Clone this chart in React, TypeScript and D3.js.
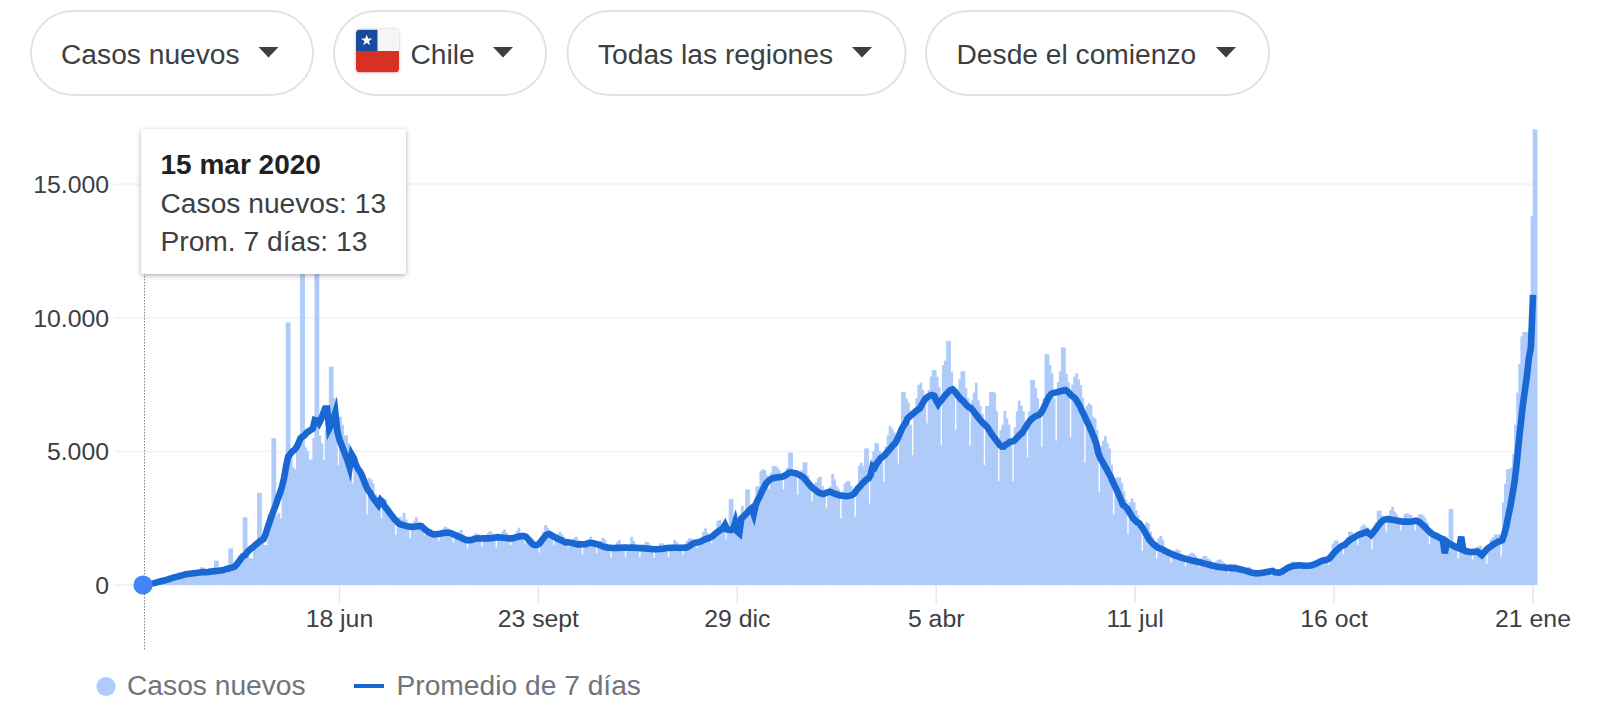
import React from "react";
import * as d3 from "d3";

const FONT = "'Liberation Sans', Arial, sans-serif";

// Daily new cases, one row per week, starting 15 mar 2020
const newCases = [
  13,20,26,60,75,90,115,
  130,140,150,150,170,190,220,
  260,290,280,300,320,350,400,
  400,410,390,370,420,430,660,
  660,470,440,430,480,510,910,
  910,500,480,440,510,560,1370,
  1370,750,700,620,800,950,2530,
  2530,1100,1000,1000,1350,1500,3450,
  3450,1600,1500,1500,2650,2650,5490,
  5490,2600,2700,2490,3500,4050,9826,
  9826,4800,4400,4330,5000,5500,13500,
  13500,5150,5000,4680,4700,5500,12500,
  12500,5600,5300,4680,5800,6500,8170,
  8170,7000,6300,4490,6300,6000,5600,
  5600,5300,5000,3800,4700,4600,4300,
  4200,4000,3900,2640,4000,3950,3800,
  3400,3300,3200,2490,3250,3200,3000,
  2900,2700,2600,1870,2500,2550,2450,
  2700,2450,2300,1745,2300,2400,2550,
  2300,2250,2200,1870,2150,2100,2100,
  2000,1950,1900,1650,1900,2050,2180,
  2150,2100,1950,1583,1950,1950,2000,
  2060,1900,1800,1370,1700,1800,1850,
  1930,1900,1800,1434,1800,1800,1950,
  2020,1950,1850,1400,1800,1850,2000,
  2082,1950,1850,1496,1800,1850,2000,
  2145,1950,1850,1558,1700,1750,1800,
  1700,1600,1400,1210,1600,2000,2245,
  2150,2050,1900,1500,1850,1900,1995,
  1900,1800,1700,1400,1550,1650,1750,
  1808,1700,1550,1147,1450,1550,1700,
  1808,1700,1550,1185,1500,1650,1770,
  1700,1550,1400,1022,1350,1450,1600,
  1683,1500,1400,1060,1350,1500,1808,
  1650,1500,1400,1035,1350,1450,1620,
  1600,1500,1350,1022,1350,1450,1558,
  1558,1500,1400,1035,1400,1500,1683,
  1600,1500,1400,1122,1450,1650,1746,
  1746,1700,1600,1370,1650,1750,2000,
  2120,1950,1800,1560,1900,2050,2394,
  2430,2300,2150,1708,2200,3217,3217,
  2556,2400,2300,1808,2955,2700,3580,
  3580,3000,2900,2430,3680,3700,4265,
  4327,4300,4100,3600,4200,4450,4450,
  4400,4300,4100,3580,4100,4400,4950,
  4950,4300,4100,3367,4200,4300,4590,
  4590,4100,3900,3142,3800,3850,4000,
  4050,3700,3500,2868,3500,3700,4150,
  3950,3700,3600,2494,3500,3800,3880,
  3890,3700,3500,2556,3700,4460,4576,
  4450,5110,5110,3055,4700,5000,5320,
  5300,5000,4800,3865,5200,5600,5950,
  5850,5700,5400,4550,5900,7230,7230,
  6980,6820,6000,4860,6300,7000,7480,
  7570,7300,7000,6050,7300,7800,8040,
  8040,7800,7400,5240,8230,8400,9128,
  9128,7980,7400,5800,7300,7700,8000,
  8000,7360,7000,5200,6900,7200,7570,
  6920,6700,6400,4490,6700,6700,7230,
  7230,7200,6500,3890,5800,6000,6520,
  6235,6000,5500,3890,5900,6500,6900,
  6700,6500,6000,4776,6500,7670,7670,
  7360,7000,6500,5175,7000,8640,8640,
  8230,7920,7000,5400,7600,8000,8890,
  8890,7900,7600,5520,7500,7800,7920,
  7700,7480,7000,4576,6700,6800,6730,
  6300,6235,5800,3466,5200,5400,5570,
  5300,5110,4500,2644,4000,4020,4030,
  3830,3500,3200,1895,3100,3240,3100,
  2800,2600,2400,1284,2200,2345,2300,
  2000,1800,1500,998,1750,1833,1700,
  1400,1300,1200,835,1200,1300,1334,
  1300,1150,1050,710,1100,1150,1210,
  1180,1100,950,660,1000,1085,1085,
  1000,950,850,560,880,950,950,
  880,820,750,436,800,785,800,
  750,680,620,420,620,650,680,
  620,560,520,340,500,540,560,
  560,520,500,360,520,560,600,
  540,540,560,430,620,760,873,
  873,840,800,620,780,810,810,
  800,780,760,640,800,880,950,
  1000,980,950,760,1200,1550,1658,
  1658,1500,1400,1150,1600,1800,1995,
  1995,1900,1800,1500,2000,2200,2270,
  2180,2150,2000,1347,2000,2350,2780,
  2780,2600,2500,2000,2600,2800,2930,
  2750,2650,2500,2050,2500,2650,2680,
  2650,2620,2450,2033,2500,2650,2650,
  2600,2500,2350,1534,2100,2000,1950,
  1850,1800,1750,1250,1500,1650,2843,
  2843,1600,1450,1000,1300,1350,1400,
  1400,1350,1250,950,1300,1420,1440,
  1470,1350,1250,785,1500,1700,1783,
  1895,1895,1890,1060,3094,3790,4330,
  4330,4400,4900,6000,7200,8270,9300,
  9470,9470,9470,9600,13800,17050,17050,
];

// Seven-day average, same weekly rows
const sevenDayAvg = [
  13,20,30,45,60,78,100,
  120,140,160,180,200,225,250,
  275,295,315,335,355,380,400,
  410,420,430,440,450,460,470,
  475,480,480,490,505,510,520,
  525,530,540,550,575,600,620,
  640,660,690,780,880,990,1080,
  1120,1230,1300,1370,1420,1500,1560,
  1620,1680,1720,1900,2150,2370,2600,
  2800,3000,3230,3440,3680,4000,4450,
  4800,4900,5000,5050,5150,5300,5490,
  5550,5600,5700,5750,5800,5850,6170,
  6150,6050,6200,6400,6600,6600,5850,
  6000,6200,6450,5750,5450,5250,5050,
  4850,4650,4400,4880,4750,4500,4350,
  4250,4100,3900,3700,3550,3450,3300,
  3200,3100,3000,3180,3100,2950,2850,
  2750,2650,2550,2450,2380,2300,2260,
  2245,2220,2200,2190,2180,2170,2190,
  2200,2210,2200,2130,2060,2000,1950,
  1920,1895,1900,1910,1920,1940,1950,
  1958,1958,1950,1920,1880,1850,1810,
  1780,1740,1710,1680,1680,1680,1700,
  1730,1740,1745,1740,1745,1750,1745,
  1745,1750,1760,1780,1790,1783,1770,
  1770,1760,1750,1745,1745,1760,1790,
  1800,1820,1830,1830,1800,1720,1620,
  1540,1500,1496,1520,1600,1700,1800,
  1880,1908,1880,1830,1790,1750,1710,
  1680,1640,1600,1596,1590,1585,1560,
  1540,1520,1520,1520,1525,1530,1560,
  1580,1570,1560,1540,1520,1490,1460,
  1430,1410,1400,1397,1385,1385,1390,
  1390,1395,1400,1400,1400,1395,1397,
  1397,1395,1390,1385,1380,1380,1370,
  1360,1355,1350,1340,1340,1340,1347,
  1350,1360,1375,1385,1390,1395,1395,
  1395,1395,1390,1395,1397,1400,1420,
  1480,1530,1570,1590,1600,1620,1660,
  1700,1730,1746,1780,1830,1900,1960,
  2020,2070,2120,2250,2080,2070,2058,
  2100,2350,2000,1933,2494,2560,2640,
  2720,2800,2868,2650,3000,3180,3320,
  3500,3650,3800,3880,3950,3990,4010,
  4020,4030,4040,4050,4090,4130,4190,
  4215,4200,4190,4170,4130,4090,4050,
  3960,3870,3780,3680,3620,3560,3500,
  3450,3420,3404,3440,3470,3490,3470,
  3430,3400,3380,3350,3340,3330,3325,
  3330,3345,3367,3420,3530,3630,3700,
  3803,3870,3950,3990,4115,4450,4400,
  4550,4650,4750,4800,4870,4960,5050,
  5140,5237,5300,5450,5620,5800,5950,
  6050,6235,6300,6370,6430,6500,6560,
  6609,6750,6880,6990,7045,7090,7110,
  7080,6900,6771,6880,6960,7060,7150,
  7230,7300,7320,7250,7150,7050,6950,
  6900,6800,6720,6646,6620,6520,6420,
  6320,6220,6130,6048,5980,5900,5770,
  5650,5550,5450,5340,5240,5175,5180,
  5260,5300,5362,5370,5400,5480,5560,
  5640,5700,5830,5950,6080,6172,6240,
  6300,6340,6360,6430,6560,6720,6900,
  7050,7145,7180,7200,7220,7240,7260,
  7280,7295,7250,7170,7090,7030,6960,
  6830,6700,6530,6380,6200,6048,5880,
  5700,5500,5300,4950,4750,4620,4480,
  4340,4200,4060,3880,3720,3560,3380,
  3200,3000,2950,2868,2750,2620,2500,
  2420,2350,2307,2200,2090,1950,1820,
  1680,1600,1520,1470,1400,1370,1347,
  1300,1260,1220,1190,1150,1120,1090,
  1060,1040,1010,990,970,950,930,
  910,898,880,860,840,820,800,
  780,760,740,720,700,680,670,
  661,655,650,640,635,630,628,
  623,610,590,570,550,530,510,
  480,460,450,436,440,445,455,
  470,485,500,515,524,480,470,
  461,480,520,570,620,660,690,
  711,725,730,735,730,725,723,
  720,723,735,760,790,830,870,
  900,925,935,960,1020,1110,1210,
  1280,1350,1420,1470,1496,1570,1640,
  1700,1750,1790,1840,1880,1910,1933,
  1960,1990,1930,1870,1960,2060,2160,
  2260,2360,2430,2456,2465,2460,2440,
  2430,2420,2400,2390,2380,2370,2370,
  2365,2369,2380,2394,2407,2380,2330,
  2260,2190,2110,2030,1960,1900,1860,
  1833,1790,1750,1708,1185,1620,1560,
  1520,1470,1430,1400,1372,1808,1309,
  1270,1250,1240,1235,1240,1245,1247,
  1180,1122,1200,1290,1372,1420,1480,
  1530,1580,1620,1640,1680,1900,2200,
  2600,2950,3400,3852,4500,5300,6000,
  6700,7262,7800,8500,8900,10860,
];

const yTicks = [0, 5000, 10000, 15000];
const yTickLabels = ["0", "5.000", "10.000", "15.000"];
const xTickDays = [95, 192, 289, 386, 483, 580, 677];
const xTickLabels = ["18 jun", "23 sept", "29 dic", "5 abr", "11 jul", "16 oct", "21 ene"];

const pills = [
  { x: 31, w: 282, label: "Casos nuevos", tx: 61, tri: 268.5 },
  { x: 334, w: 212, label: "Chile", tx: 410.5, tri: 503 },
  { x: 567.5, w: 338, label: "Todas las regiones", tx: 598, tri: 862 },
  { x: 926, w: 343, label: "Desde el comienzo", tx: 956.5, tri: 1226 },
];
const tooltipTitle = "15 mar 2020";
const tooltipLines = ["Casos nuevos: 13", "Prom. 7 días: 13"];

const x = d3.scaleLinear().domain([0, 677]).range([144.6, 1533]);
const y = d3.scaleLinear().domain([0, 15000]).range([585, 184.2]);
const barW = x(1) - x(0);

const avgPath = d3
  .line<number>()
  .x((_, i) => x(i))
  .y((v) => y(v))
  .curve(d3.curveLinear)(sevenDayAvg) as string;

export default function App() {
  return (
    <svg
      width={1600}
      height={709}
      viewBox="0 0 1600 709"
      style={{ position: "absolute", left: 0, top: 0, display: "block" }}
      fontFamily={FONT}
    >
      <defs>
        <filter id="tipShadow" x="-10%" y="-10%" width="120%" height="125%">
          <feDropShadow dx="0" dy="1.5" stdDeviation="2.5" floodColor="#3c4043" floodOpacity="0.42" />
        </filter>
        <filter id="flagShadow" x="-15%" y="-15%" width="130%" height="130%">
          <feDropShadow dx="0" dy="0" stdDeviation="1.4" floodColor="#3c4043" floodOpacity="0.35" />
        </filter>
        <clipPath id="flagClip">
          <rect x={356} y={29.5} width={43} height={43} rx={4} />
        </clipPath>
      </defs>

      {pills.map((p) => (
        <g key={p.label}>
          <rect x={p.x} y={11} width={p.w} height={84} rx={42} fill="#fff" stroke="#dfe1e5" strokeWidth={1.8} />
          <text x={p.tx} y={63.5} fontSize={28.2} fill="#3c4043">
            {p.label}
          </text>
          <path d={`M${p.tri - 10},47 L${p.tri + 10},47 L${p.tri},57.5 Z`} fill="#3c4043" />
        </g>
      ))}

      <g filter="url(#flagShadow)">
        <rect x={356} y={29.5} width={43} height={43} rx={4} fill="#fff" />
      </g>
      <g clipPath="url(#flagClip)">
        <rect x={356} y={29.5} width={43} height={21.5} fill="#f5f5f5" />
        <rect x={356} y={29.5} width={21.5} height={21.5} fill="#1a4a9e" />
        <rect x={356} y={51} width={43} height={21.5} fill="#d93025" />
        <path
          d="M366.7,34.5 l1.4,4.1 h4.3 l-3.5,2.6 l1.3,4.1 l-3.5,-2.5 l-3.5,2.5 l1.3,-4.1 l-3.5,-2.6 h4.3 Z"
          fill="#fff"
        />
      </g>

      {yTicks.map((t, i) => (
        <g key={t}>
          <line x1={114} x2={1533} y1={y(t)} y2={y(t)} stroke="#f1f3f4" strokeWidth={2} />
          <text x={109} y={y(t) + 8.8} textAnchor="end" fontSize={24.8} fill="#3c4043">
            {yTickLabels[i]}
          </text>
        </g>
      ))}

      {xTickDays.map((d, i) => (
        <g key={d}>
          <line x1={x(d)} x2={x(d)} y1={586} y2={603} stroke="#e4e6e8" strokeWidth={1.5} />
          <text x={x(d)} y={627} textAnchor="middle" fontSize={24.8} fill="#3c4043">
            {xTickLabels[i]}
          </text>
        </g>
      ))}

      <line x1={144.5} x2={144.5} y1={270} y2={651} stroke="#80868b" strokeWidth={1} strokeDasharray="1.5 1.5" />

      <g fill="#aecbfa">
        {newCases.map((v, i) => (
          <rect key={i} x={x(i) - 0.35} y={y(v)} width={barW + 0.7} height={y(0) - y(v)} />
        ))}
      </g>

      <path d={avgPath} fill="none" stroke="#1967d2" strokeWidth={6.6} strokeLinejoin="miter" strokeMiterlimit={5} />
      <circle cx={143} cy={585} r={9.6} fill="#4285f4" />

      <rect x={141} y={129} width={265} height={145} rx={3} fill="#fff" filter="url(#tipShadow)" />
      <text x={160.5} y={173.5} fontSize={28} fontWeight={700} fill="#202124">
        {tooltipTitle}
      </text>
      <text x={160.5} y={212.5} fontSize={28.2} fill="#3c4043">
        {tooltipLines[0]}
      </text>
      <text x={160.5} y={250.5} fontSize={28.2} fill="#3c4043">
        {tooltipLines[1]}
      </text>

      <circle cx={106} cy={686.5} r={9.6} fill="#aecbfa" />
      <text x={127} y={695} fontSize={28.2} fill="#70757a">
        Casos nuevos
      </text>
      <line x1={354} x2={384} y1={686} y2={686} stroke="#1967d2" strokeWidth={4} />
      <text x={396.5} y={695} fontSize={28.2} fill="#70757a">
        Promedio de 7 días
      </text>
    </svg>
  );
}
